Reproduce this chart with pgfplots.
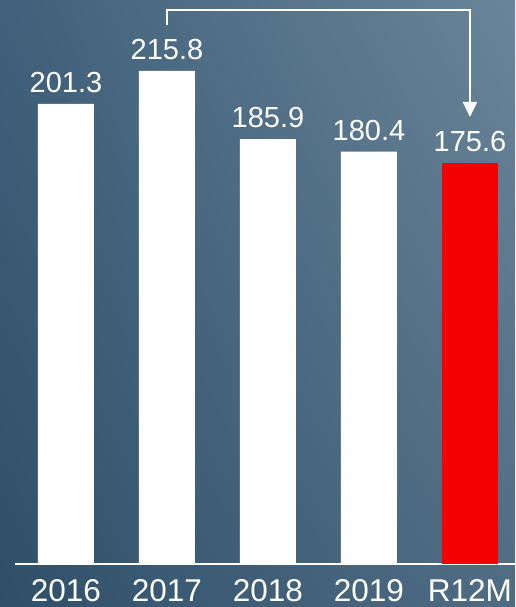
\documentclass[border=0pt]{standalone}
\usepackage{fontspec}
\setmainfont{Liberation Sans}
\usepackage{pgfplots}
\pgfplotsset{compat=1.18}
\usetikzlibrary{arrows.meta,shadings}
\definecolor{bgUL}{HTML}{40607B}
\definecolor{bgUR}{HTML}{6A8598}
\definecolor{bgLL}{HTML}{2F4F69}
\definecolor{bgLR}{HTML}{4F6C83}
\definecolor{barred}{RGB}{245,0,0}
\begin{document}
\begin{tikzpicture}
\shade[upper left=bgUL, upper right=bgUR, lower left=bgLL, lower right=bgLR] (0,-43pt) rectangle (515pt,564pt);
\useasboundingbox (0,-43pt) rectangle (515pt,564pt);
\begin{axis}[
  at={(0,0)}, anchor=south west,
  scale only axis, width=515pt, height=564pt,
  xmin=-0.653, xmax=4.446, ymin=0, ymax=246.8,
  clip=false,
  axis line style={draw=none},
  ytick=\empty,
  xtick={0,1,2,3,4},
  xticklabels={2016,2017,2018,2019,R12M},
  major tick length=0pt,
  tick style={draw=none},
  xticklabel style={font=\fontsize{31.5}{32}\selectfont, text=white, anchor=base, yshift=-37pt},
  ybar, bar width=56pt, bar shift=0pt,
  point meta=explicit symbolic,
  nodes near coords,
  every node near coord/.append style={font=\fontsize{29}{30}\selectfont, text=white, anchor=base, yshift=11.5pt},
]
\draw[white, line width=1.5pt] (axis cs:-0.505,0) -- (axis cs:4.446,0);
\addplot[fill=white, draw=none] coordinates {(0,201.3)[201.3] (1,215.8)[215.8] (2,185.9)[185.9] (3,180.4)[180.4]};
\addplot[fill=barred, draw=none] coordinates {(4,175.6)[175.6]};
\draw[white, line width=2pt, -{Triangle[width=14pt,length=15pt]}] (axis cs:1,235.9) |- (axis cs:4,242.5) -- (axis cs:4,195.6);
\end{axis}
\end{tikzpicture}
\end{document}
